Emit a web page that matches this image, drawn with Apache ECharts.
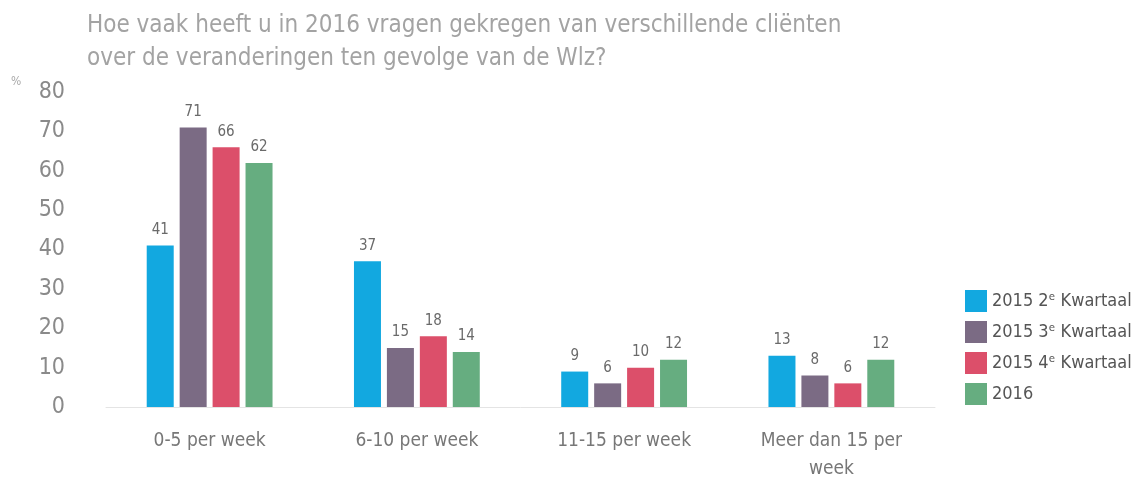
<!DOCTYPE html>
<html>
<head>
<meta charset="utf-8">
<script src="https://cdn.jsdelivr.net/npm/echarts@6/dist/echarts.min.js"></script>
<style>
  html, body { margin: 0; padding: 0; background: #fff; }
  #chart { width: 1143px; height: 477px; }
</style>
</head>
<body>
<div id="chart"></div>
<script>
  // gegevens
  const categories = ['0-5 per week', '6-10 per week', '11-15 per week', 'Meer dan 15 per\nweek'];
  const q2_2015 = [41, 37, 9, 13];
  const q3_2015 = [71, 15, 6, 8];
  const q4_2015 = [66, 18, 10, 6];
  const y2016 = [62, 14, 12, 12];
  const seriesNames = ['2015 2ᵉ Kwartaal', '2015 3ᵉ Kwartaal', '2015 4ᵉ Kwartaal', '2016'];
  const colors = ['#12a8e0', '#7b6b84', '#dc4f6a', '#66ad80'];

  const font = '"Liberation Sans Narrow", "DejaVu Sans Condensed", "Liberation Sans", sans-serif';

  const makeSeries = (name, data) => ({
    name: name,
    type: 'bar',
    data: data,
    barWidth: 27,
    barGap: '22%',
    label: {
      show: true,
      position: 'top',
      distance: 8,
      color: '#6a6a6a',
      fontSize: 15,
      fontFamily: font
    }
  });

  let option = {
    color: colors,
    animation: false,
    title: {
      text: 'Hoe vaak heeft u in 2016 vragen gekregen van verschillende cliënten\nover de veranderingen ten gevolge van de Wlz?',
      left: 82,
      top: 4,
      textStyle: {
        color: '#a3a3a3',
        fontSize: 24,
        fontWeight: 'normal',
        fontFamily: font,
        lineHeight: 33
      }
    },
    graphic: [{
      type: 'text',
      left: 11,
      top: 76,
      style: { text: '%', fill: '#aaa', fontSize: 12, fontFamily: font }
    }],
    legend: {
      orient: 'vertical',
      left: 960,
      top: 285,
      itemWidth: 22,
      itemHeight: 22,
      itemGap: 9,
      icon: 'rect',
      textStyle: {
        color: '#555',
        fontSize: 18,
        fontFamily: font
      },
      data: seriesNames
    },
    grid: {
      left: 106,
      right: 208,
      top: 92,
      bottom: 70,
      outerBoundsMode: 'none'
    },
    xAxis: {
      type: 'category',
      data: categories,
      axisTick: { show: false },
      axisLine: { lineStyle: { color: '#e4e4e4' } },
      axisLabel: {
        color: '#777',
        fontSize: 19,
        fontFamily: font,
        margin: 20,
        lineHeight: 28
      }
    },
    yAxis: {
      type: 'value',
      min: 0,
      max: 80,
      interval: 10,
      splitLine: { show: false },
      axisLabel: {
        color: '#8a8a8a',
        fontSize: 23,
        fontFamily: font,
        margin: 41
      }
    },
    series: [
      makeSeries(seriesNames[0], q2_2015),
      makeSeries(seriesNames[1], q3_2015),
      makeSeries(seriesNames[2], q4_2015),
      makeSeries(seriesNames[3], y2016)
    ]
  };
  let myChart = echarts.init(document.getElementById('chart'));
  myChart.setOption(option);
</script>
</body>
</html>
